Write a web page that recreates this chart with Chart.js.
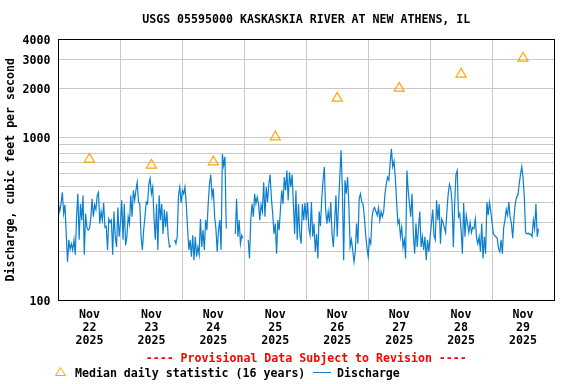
<!DOCTYPE html>
<html>
<head>
<meta charset="utf-8">
<script src="https://cdn.jsdelivr.net/npm/chart.js@4.4.1/dist/chart.umd.min.js"></script>
<style>
html,body{margin:0;padding:0;background:#fff;}
#wrap{position:relative;width:576px;height:384px;overflow:hidden;}
#c{position:absolute;left:0;top:0;}
.lg{position:absolute;top:365.5px;height:14px;line-height:14px;font:bold 11.6px "DejaVu Sans Mono",monospace;color:#000;white-space:pre;}
</style>
</head>
<body>
<div id="wrap">
<canvas id="c" width="576" height="384"></canvas>
<svg style="position:absolute;left:55px;top:367px" width="12" height="10"><polygon points="5.5,0.5 10.5,8.5 0.5,8.5" fill="none" stroke="#ffa500" stroke-width="1"/></svg>
<div class="lg" style="left:75px">Median daily statistic (16 years)</div>
<div style="position:absolute;left:313px;top:372px;width:18px;height:1px;background:#0b7fd0"></div>
<div class="lg" style="left:337px">Discharge</div>
</div>
<script>
// ---- data ----
const monthLabel = 'Nov';
const yearLabel = '2025';
const dayLabels = ['22', '23', '24', '25', '26', '27', '28', '29'];
// median daily statistic (cfs), one per day, plotted at noon
const medianValues = [735, 675, 707, 1007, 1742, 2006, 2446, 3069];
// discharge (cfs), every 30 minutes from Nov 22 00:00; null = missing
const stepHours = 0.5;
const dischargeValues = [
  390,350,395,460,340,385,255,172,235,205,
  222,203,235,190,325,450,235,390,310,440,
  190,340,280,269,275,315,420,325,385,360,
  440,460,295,350,310,395,280,285,203,315,
  300,310,190,350,245,212,370,245,295,410,
  235,390,217,245,325,295,440,325,472,410,
  472,530,400,390,245,203,269,325,400,390,
  515,560,450,495,325,235,390,203,440,310,
  390,255,360,280,350,245,212,217,null,null,
  235,222,245,440,495,395,472,450,495,390,
  280,203,235,185,250,176,245,185,212,190,
  315,212,269,203,310,269,390,515,590,430,
  485,325,275,198,269,310,203,790,670,760,
  275,null,null,null,null,null,null,255,420,245,
  310,222,250,240,null,null,null,235,180,310,
  390,325,450,390,430,390,310,385,350,530,
  325,495,400,515,590,420,340,255,295,193,
  310,269,360,472,390,570,472,625,410,610,
  495,590,395,255,472,235,390,255,222,390,
  310,395,310,400,275,250,400,245,295,198,
  255,180,350,285,420,545,660,360,295,350,
  300,400,255,212,300,440,245,385,570,833,
  472,176,545,450,570,390,212,235,203,172,
  198,295,222,420,450,400,390,325,255,212,
  185,235,222,325,360,370,350,332,370,310,
  350,325,350,450,515,570,545,690,850,660,
  715,570,410,295,310,245,280,212,235,180,
  625,472,390,325,450,255,193,295,212,280,
  350,212,245,203,245,176,235,198,245,295,
  360,250,235,410,310,390,222,315,300,280,
  260,350,450,515,485,395,212,390,590,625,
  325,340,269,193,395,245,332,295,260,300,
  260,280,275,315,240,222,245,198,295,180,
  245,193,400,332,400,350,300,255,250,245,
  240,207,198,235,193,280,310,360,332,400,
  325,295,240,325,390,430,440,515,590,660,
  570,430,260,255,258,253,255,245,310,275,
  390,245,275
];
const yTickValues = [100, 200, 300, 400, 500, 600, 700, 800, 900, 1000, 2000, 3000, 4000];
const yLabelValues = [100, 1000, 2000, 3000, 4000];
const titleText = 'USGS 05595000 KASKASKIA RIVER AT NEW ATHENS, IL';
const yTitleText = 'Discharge, cubic feet per second';
const provisionalText = '---- Provisional Data Subject to Revision ----';

// ---- styling ----
const FONT = { family: "'DejaVu Sans Mono', monospace", size: 11.6, weight: 'bold' };
const GRID = '#c8c8c8';
const BLUE = '#0b7fd0';
const ORANGE = '#ffa500';

const totalHours = dayLabels.length * 24;
const dischargeData = dischargeValues.map((v, i) => ({ x: i * stepHours, y: v }));
const medianData = medianValues.map((v, d) => ({ x: d * 24 + 12, y: v }));

const framePlugin = {
  id: 'frame',
  afterDatasetsDraw(chart) {
    const { ctx, chartArea: a } = chart;
    const l = Math.floor(a.left) + 0.5, t = Math.floor(a.top) + 0.5;
    const r = Math.floor(a.right) + 0.5, b = Math.floor(a.bottom) + 0.5;
    ctx.save();
    ctx.strokeStyle = '#000';
    ctx.lineWidth = 1;
    ctx.strokeRect(l, t, r - l, b - t);
    ctx.restore();
  }
};

new Chart(document.getElementById('c'), {
  type: 'line',
  data: {
    datasets: [
      {
        label: 'Discharge',
        data: dischargeData,
        borderColor: BLUE,
        borderWidth: 1.2,
        pointRadius: 0,
        tension: 0,
        fill: false,
        spanGaps: false,
        order: 2
      },
      {
        label: 'Median daily statistic (16 years)',
        data: medianData,
        showLine: false,
        pointStyle: 'triangle',
        pointRadius: 5.8,
        pointBorderColor: ORANGE,
        pointBackgroundColor: 'rgba(0,0,0,0)',
        pointBorderWidth: 1.2,
        order: 1
      }
    ]
  },
  options: {
    responsive: false,
    animation: false,
    devicePixelRatio: 1,
    layout: { padding: { left: 0, right: 22, top: 0, bottom: 18.5 } },
    plugins: {
      legend: { display: false },
      tooltip: { enabled: false },
      title: {
        display: true, text: titleText, fullSize: false, color: '#000', font: FONT,
        padding: { top: 13.5, bottom: 12 }
      },
      subtitle: {
        display: true, position: 'bottom', fullSize: false, text: provisionalText,
        color: '#ff0000', font: FONT, padding: { top: 4.5, bottom: 0 }
      }
    },
    scales: {
      x: {
        type: 'linear', min: 0, max: totalHours,
        border: { display: false },
        grid: {
          drawTicks: false, lineWidth: 1,
          color: (ctx) => (ctx.tick && ctx.tick.value % 24 === 0) ? GRID : 'rgba(0,0,0,0)'
        },
        afterBuildTicks: (s) => {
          const t = [];
          for (let d = 0; d <= dayLabels.length; d++) {
            t.push({ value: d * 24 });
            if (d < dayLabels.length) t.push({ value: d * 24 + 12 });
          }
          s.ticks = t;
        },
        ticks: {
          autoSkip: false, maxRotation: 0, minRotation: 0, padding: 8, color: '#000',
          font: Object.assign({}, FONT, { lineHeight: 13 / 11.6 }),
          callback: (v) => {
            const d = (v - 12) / 24;
            return (Number.isInteger(d) && d >= 0 && d < dayLabels.length)
              ? [monthLabel, dayLabels[d], yearLabel] : '';
          }
        },
        afterFit: (s) => { s.height = 47; }
      },
      y: {
        type: 'logarithmic', min: 100, max: 4000,
        border: { display: false },
        grid: { drawTicks: false, color: GRID, lineWidth: 1 },
        afterBuildTicks: (s) => { s.ticks = yTickValues.map(v => ({ value: v })); },
        ticks: {
          autoSkip: false, padding: 8, color: '#000', font: FONT, labelOffset: 1.5,
          callback: (v) => yLabelValues.includes(v) ? String(v) : ''
        },
        title: {
          display: true, text: yTitleText, color: '#000', font: FONT,
          padding: { top: 4.3, bottom: 0 }
        },
        afterFit: (s) => { s.width = 58.5; }
      }
    }
  },
  plugins: [framePlugin]
});
</script>
</body>
</html>
